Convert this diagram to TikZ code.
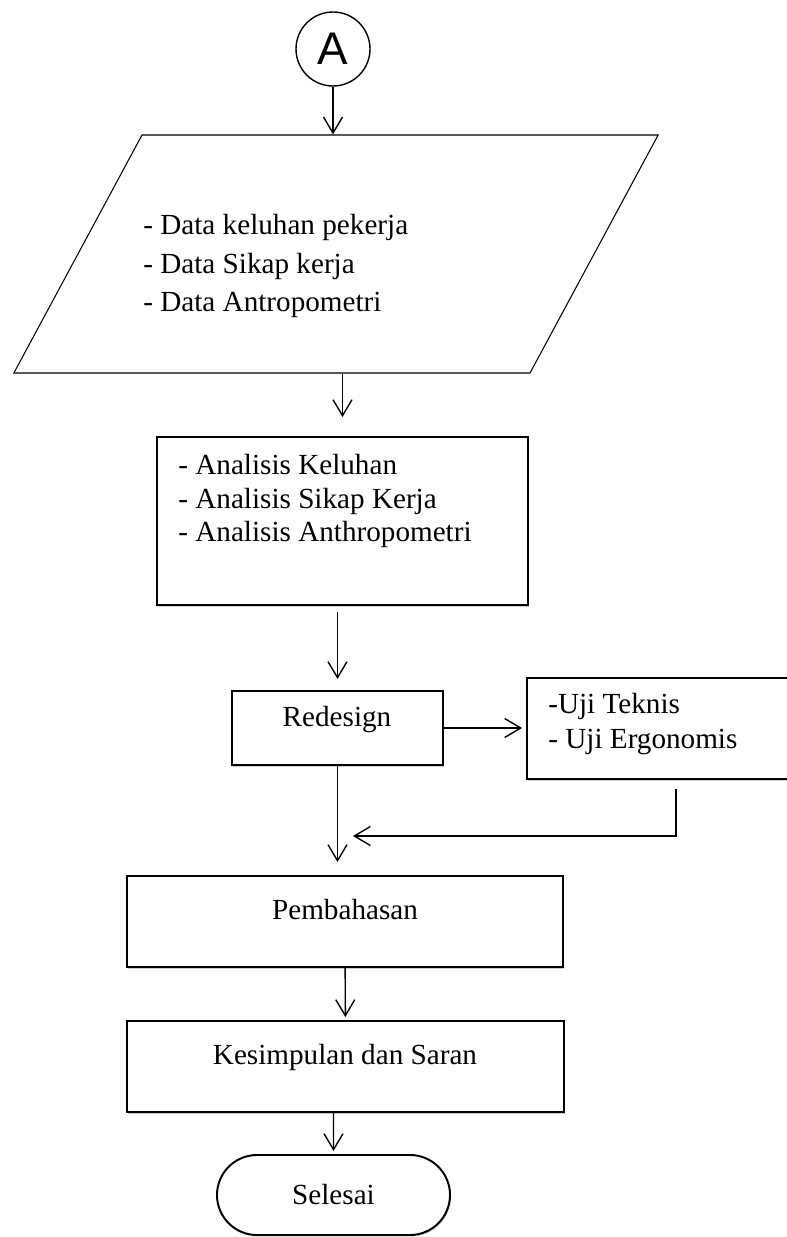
\documentclass[tikz,border=0pt]{standalone}
\usepackage{fontspec}
\setmainfont{Liberation Serif}
\newfontfamily\confont{Liberation Sans}
\usetikzlibrary{shapes.geometric,shapes.misc,arrows.meta,positioning,shadows}
\tikzset{
  proc/.style={rectangle, draw, line width=1.1pt, fill=white, inner sep=0pt,
               drop shadow={shadow xshift=0.6pt, shadow yshift=-0.9pt,
                            fill=black!40, opacity=0.5}},
  io/.style={trapezium, trapezium left angle=61.7, trapezium right angle=118.3,
             draw, line width=0.6pt, inner xsep=3.88cm, inner ysep=2.38cm},
  conn/.style={circle, draw, line width=0.8pt, inner sep=0pt, minimum size=14.8mm,
               font=\confont\fontsize{26}{30}\selectfont},
  term/.style={rounded rectangle, draw, line width=1.1pt, fill=white, inner sep=0pt,
               drop shadow={shadow xshift=0.6pt, shadow yshift=-0.9pt,
                            fill=black!40, opacity=0.5},
               font=\fontsize{16.6}{19.3}\selectfont},
  txt/.style={inner sep=0pt, align=left, font=\fontsize{16.6}{19.3}\selectfont},
  ed/.style={-{Straight Barb[length=3.2mm, width=3.8mm]}, line width=0.8pt}
}

\begin{document}
\begin{tikzpicture}
\useasboundingbox (0,0) rectangle (15.74,-24.74);
\clip (0,0) rectangle (15.74,-24.74);
% shapes
\node[conn] (A) at (6.66,-0.98) {A};
\node[io] (D) at (6.72,-5.08) {};
\node[proc, minimum width=7.42cm, minimum height=3.36cm] (AN) at (6.85,-10.42) {};
\node[proc, minimum width=4.22cm, minimum height=1.48cm] (RD) at (6.75,-14.56) {};
\node[proc, minimum width=5.96cm, minimum height=2.02cm] (UJ) at (13.52,-14.57) {};
\node[proc, minimum width=8.72cm, minimum height=1.82cm] (PB) at (6.90,-18.43) {};
\node[proc, minimum width=8.74cm, minimum height=1.82cm] (KS) at (6.91,-21.33) {};
\node[term, minimum width=4.66cm, minimum height=1.6cm] (SL) at (6.67,-23.90) {Selesai};
% texts
\node[txt, anchor=west, font=\fontsize{16.6}{21.9}\selectfont] (Dt) at (2.86,-5.32)
  {- Data keluhan pekerja\\- Data Sikap kerja\\- Data Antropometri};
\node[txt, anchor=west] (ANt) at (3.56,-10.02)
  {- Analisis Keluhan\\- Analisis Sikap Kerja\\- Analisis Anthropometri};
\node[txt] (RDt) at (6.74,-14.40) {Redesign};
\node[txt, anchor=west, font=\fontsize{16.6}{19.9}\selectfont] (UJt) at (10.96,-14.49)
  {-Uji Teknis\\- Uji Ergonomis};
\node[txt] (PBt) at (6.90,-18.20) {Pembahasan};
\node[txt] (KSt) at (6.90,-21.14) {Kesimpulan dan Saran};
% arrows
\coordinate (ret) at (7.06,-16.72);
\draw[ed] (A) -- (A |- D.north);
\draw[ed, shorten >=3.8mm] (AN |- D.south) -- (AN.north);
\draw[ed, shorten <=1.2mm, shorten >=2.2mm] (AN.south -| RD) -- (RD.north);
\draw[ed, shorten >=0.8mm] (RD) -- (UJ.west |- RD);
\draw[ed, shorten >=2.6mm] (RD) -- (RD |- PB.north);
\draw[ed, shorten <=1.8mm] (UJ.south) |- (ret);
\draw[ed, shorten >=0.6mm] (PB) -- (KS);
\draw[ed, shorten >=0.6mm] (KS.south -| SL) -- (SL);
\end{tikzpicture}
\end{document}
